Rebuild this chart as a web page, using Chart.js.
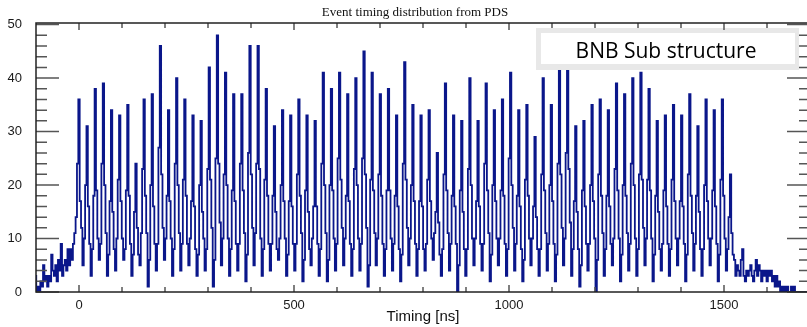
<!DOCTYPE html>
<html lang="en">
  <head>
    <meta charset="UTF-8" />
    <meta name="viewport" content="width=device-width, initial-scale=1.0" />
    <script src="https://cdn.jsdelivr.net/npm/chart.js@4.4.0/dist/chart.umd.min.js"></script>
    <title>Event timing distribution from PDS</title>
    <style>
      html, body { margin: 0; padding: 0; overflow: hidden; background: #fff; }
    </style>
  </head>
  <body>
    <canvas id="myChart" width="812" height="327"></canvas>
    <script>
      // histogram binning (ns), 6 bins per bunch
      const binStart = -102.59;
      const binWidth = 3.1567;

      // counts before the spill
      const preCounts = [3, 0, 1, 0, 2, 1, 5, 2, 3, 1, 3, 2, 7, 4, 3, 5, 2, 6, 4, 9,
        3, 5, 6, 4, 8, 5, 8, 6, 9];

      // 81 bunches, 6 bins each: low, early, rise, peak, fall, tail
      const bunchLow = [11, 5, 3, 6, 3, 4, 6, 3, 5, 1, 4, 6, 3, 4, 5, 3, 4, 1, 5, 3,
        4, 2, 5, 3, 4, 6, 3, 4, 2, 5, 3, 2, 4, 5, 3, 4, 1, 5, 3, 4,
        2, 5, 3, 4, 6, 3, 4, 0, 3, 5, 4, 2, 5, 3, 4, 2, 5, 3, 4, 2,
        5, 3, 1, 4, 0, 3, 5, 2, 4, 3, 5, 2, 4, 3, 5, 2, 4, 3, 5, 2, 4];
      const bunchEarly = [14, 10, 8, 9, 7, 10, 8, 7, 11, 6, 9, 10, 8, 9, 10, 7, 8, 6, 10, 8,
        9, 7, 11, 8, 9, 10, 7, 9, 6, 10, 8, 6, 9, 10, 8, 9, 5, 10, 8, 9,
        7, 10, 8, 9, 11, 8, 9, 5, 8, 10, 9, 7, 10, 8, 9, 6, 10, 8, 9, 7,
        10, 8, 5, 9, 6, 8, 10, 7, 9, 8, 10, 7, 9, 8, 10, 7, 9, 8, 10, 7, 8];
      const bunchRise = [24, 20, 18, 24, 17, 21, 19, 15, 23, 20, 27, 18, 24, 21, 17, 20, 23, 25, 22, 19,
        24, 26, 24, 21, 18, 20, 17, 22, 19, 16, 24, 20, 25, 18, 23, 25, 21, 22, 19, 18,
        24, 20, 17, 21, 15, 22, 18, 19, 23, 17, 24, 20, 19, 25, 18, 21, 16, 22, 20, 24,
        26, 17, 19, 20, 22, 18, 23, 20, 24, 22, 21, 18, 19, 21, 17, 22, 18, 20, 19, 21, 14];
      const bunchPeak = [36, 31, 38, 39, 34, 33, 35, 24, 36, 37, 46, 34, 40, 36, 33, 32, 42, 48, 41, 37,
        37, 46, 46, 38, 31, 34, 33, 36, 33, 32, 41, 38, 41, 37, 40, 45, 41, 37, 38, 33,
        43, 35, 33, 34, 26, 39, 33, 32, 40, 32, 39, 34, 36, 41, 34, 35, 29, 40, 35, 45,
        46, 31, 32, 35, 36, 34, 39, 37, 40, 41, 38, 32, 33, 35, 33, 37, 31, 36, 34, 36, 22];
      const bunchFall = [17, 16, 19, 20, 15, 17, 18, 12, 18, 16, 22, 17, 20, 18, 16, 15, 21, 24, 20, 17,
        19, 22, 23, 18, 15, 17, 16, 18, 15, 16, 20, 19, 21, 17, 20, 22, 19, 18, 19, 16,
        21, 17, 16, 17, 13, 19, 16, 15, 20, 16, 19, 17, 18, 20, 16, 18, 14, 19, 17, 22,
        23, 15, 16, 17, 18, 16, 19, 18, 20, 21, 19, 15, 16, 17, 16, 18, 15, 17, 16, 18, 11];
      const bunchTail = [12, 9, 10, 11, 8, 10, 9, 7, 11, 9, 12, 10, 11, 9, 8, 10, 12, 13, 10, 9,
        11, 12, 10, 9, 8, 10, 9, 11, 8, 9, 11, 10, 12, 9, 10, 12, 11, 9, 10, 8,
        12, 9, 8, 10, 7, 11, 9, 8, 10, 9, 11, 10, 9, 12, 8, 10, 8, 11, 9, 12,
        13, 8, 9, 10, 11, 9, 10, 11, 10, 12, 10, 8, 9, 10, 9, 11, 8, 10, 9, 10, 7];

      // counts after the spill
      const postCounts = [6, 3, 5, 4, 3, 6, 8, 3, 2, 4, 3, 4, 5, 3, 2, 4, 6, 3, 5, 4,
        2, 4, 3, 4, 2, 4, 3, 4, 2, 3, 1, 3, 1, 2, 0, 1, 0, 1, 0, 1,
        0, 0, 1, 0, 1, 0, 0, 0, 0, 0, 0, 0, 0, 0, 0, 0, 0, 0];

      // axis ticks
      const xMajorTicks = [0, 500, 1000, 1500];
      const xMinorTicks = [100, 200, 300, 400, 600, 700, 800, 900, 1100, 1200, 1300, 1400, 1600];
      const yMajorTicks = [0, 10, 20, 30, 40, 50];
      const yMinorTicks = [2, 4, 6, 8, 12, 14, 16, 18, 22, 24, 26, 28, 32, 34, 36, 38, 42, 44, 46, 48];

      const counts = [...preCounts];
      for (let k = 0; k < bunchPeak.length; k++) {
        counts.push(bunchLow[k], bunchEarly[k], bunchRise[k], bunchPeak[k], bunchFall[k], bunchTail[k]);
      }
      counts.push(...postCounts);
      const points = counts.map((c, i) => ({ x: binStart + (i + 0.5) * binWidth, y: c }));

      const rootFrame = {
        id: "rootFrame",
        afterDatasetsDraw(chart) {
          const { ctx, chartArea: a, scales } = chart;
          const x = scales.x;
          const y = scales.y;
          ctx.save();

          // legend box
          ctx.fillStyle = "#e8e8e8";
          ctx.fillRect(536, 28, 263, 42);
          ctx.fillStyle = "#ffffff";
          ctx.fillRect(541, 33, 254, 31);
          ctx.fillStyle = "#000";
          ctx.font = '21px "Open Sans"';
          ctx.textAlign = "center";
          ctx.textBaseline = "alphabetic";
          ctx.fillText("BNB Sub structure", 666, 58);

          // inward ticks
          ctx.strokeStyle = "#555";
          ctx.lineWidth = 1.5;
          ctx.beginPath();
          const yTick = (v, len) => {
            const py = y.getPixelForValue(v);
            ctx.moveTo(a.left, py);
            ctx.lineTo(a.left + len, py);
            ctx.moveTo(a.right, py);
            ctx.lineTo(a.right - len, py);
          };
          const xTick = (v, len) => {
            const px = x.getPixelForValue(v);
            ctx.moveTo(px, a.bottom);
            ctx.lineTo(px, a.bottom - len);
            ctx.moveTo(px, a.top);
            ctx.lineTo(px, a.top + len);
          };
          yMajorTicks.forEach((v) => yTick(v, 23));
          yMinorTicks.forEach((v) => yTick(v, 11));
          xMajorTicks.forEach((v) => xTick(v, 7));
          xMinorTicks.forEach((v) => xTick(v, 5));
          ctx.stroke();

          // frame
          ctx.strokeStyle = "#222";
          ctx.lineWidth = 1.5;
          ctx.strokeRect(a.left, a.top, a.right - a.left, a.bottom - a.top);

          // title
          ctx.fillStyle = "#111";
          ctx.font = '13px "Liberation Serif"';
          ctx.fillText("Event timing distribution from PDS", 415, 16);
          ctx.restore();
        },
      };

      const ctx = document.getElementById("myChart").getContext("2d");
      const myChart = new Chart(ctx, {
        type: "line",
        data: {
          datasets: [
            {
              data: points,
              borderColor: "#0a168a",
              borderWidth: 1.8,
              pointRadius: 0,
              stepped: "middle",
              fill: false,
            },
          ],
        },
        options: {
          responsive: false,
          animation: false,
          layout: { padding: { top: 23, right: 2, bottom: 0, left: 0 } },
          plugins: { legend: { display: false }, tooltip: { enabled: false } },
          scales: {
            x: {
              type: "linear",
              min: -100,
              max: 1700,
              afterFit: (s) => { s.height = 35; },
              afterBuildTicks: (s) => { s.ticks = xMajorTicks.map((v) => ({ value: v })); },
              grid: { display: false, drawTicks: false },
              border: { display: false },
              ticks: {
                padding: 6,
                color: "#1a1a1a",
                font: { family: "Liberation Sans", size: 13 },
                callback: (v) => String(v),
              },
              title: {
                display: true,
                text: "Timing [ns]",
                color: "#111",
                font: { family: "Liberation Sans", size: 15 },
                padding: { top: 0, bottom: 1 },
              },
            },
            y: {
              min: 0,
              max: 50.3,
              afterFit: (s) => { s.width = 36; },
              afterBuildTicks: (s) => { s.ticks = yMajorTicks.map((v) => ({ value: v })); },
              grid: { display: false, drawTicks: false },
              border: { display: false },
              ticks: {
                padding: 14,
                color: "#1a1a1a",
                font: { family: "Liberation Sans", size: 13 },
                callback: (v) => String(v),
              },
            },
          },
        },
        plugins: [rootFrame],
      });
    </script>
  </body>
</html>
